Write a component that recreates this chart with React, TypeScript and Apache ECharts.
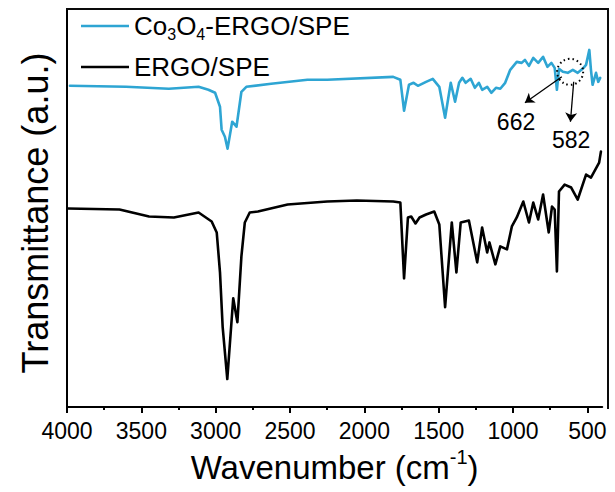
import React, { useEffect, useRef } from "react";
import * as echarts from "echarts";

// ---- data (wavenumber in cm-1, transmittance in arbitrary units) ----
const majorTicks = [4000, 3500, 3000, 2500, 2000, 1500, 1000, 500];
const minorTicks = [3750, 3250, 2750, 2250, 1750, 1250, 750];
const seriesNames = ["Co3O4-ERGO/SPE", "ERGO/SPE"];

const coWn = [3980, 3603, 3315, 3115, 3049, 3004, 2971, 2960, 2938, 2920, 2889, 2860, 2844, 2827, 2794, 2627, 2383, 2250, 1806, 1758, 1733, 1700, 1669, 1640, 1585, 1540, 1496, 1457, 1419, 1390, 1363, 1341, 1319, 1285, 1257, 1230, 1208, 1174, 1146, 1115, 1086, 1053, 1019, 975, 942, 920, 893, 864, 831, 798, 769, 742, 720, 705, 691, 665, 632, 598, 565, 532, 509, 487, 476, 465, 442, 427, 414];
const coT = [322, 321, 319, 321, 318, 315, 301, 278, 271, 259, 286, 281, 298, 316, 321, 324, 328, 328, 331, 328, 297, 323, 325, 322, 326, 329, 321, 290, 325, 306, 325, 330, 325, 329, 320, 325, 318, 321, 315, 320, 319, 325, 338, 346, 345, 348, 342, 350, 345, 351, 341, 345, 340, 318, 339, 336, 335, 338, 335, 339, 343, 358, 338, 323, 335, 326, 330];

const ergoWn = [3993, 3647, 3448, 3281, 3115, 3027, 2993, 2971, 2953, 2922, 2882, 2854, 2827, 2804, 2771, 2716, 2516, 2250, 2051, 1806, 1758, 1733, 1707, 1685, 1656, 1629, 1585, 1530, 1496, 1457, 1412, 1381, 1352, 1297, 1241, 1208, 1174, 1159, 1119, 1086, 1041, 1008, 975, 931, 893, 864, 831, 798, 760, 738, 720, 705, 691, 653, 609, 565, 509, 476, 421, 409];
const ergoT = [199, 198, 191, 190, 195, 186, 175, 135, 80, 28, 109, 85, 151, 185, 195, 196, 203, 206, 207, 206, 205, 129, 190, 191, 184, 190, 193, 196, 183, 100, 185, 135, 185, 187, 145, 180, 155, 165, 143, 161, 158, 181, 190, 206, 185, 205, 188, 213, 175, 201, 198, 136, 216, 223, 220, 208, 233, 230, 245, 256];

// axis extents
const xRange = [400, 4000];
const yRange = [0, 399];

// annotation anchors (data coordinates)
const circleAt = [616, 336];
const arrows = [
  [[672, 331], [920, 305]],
  [[592, 326], [614, 286]],
];
const peakLabels = [
  { text: "662", at: [980, 286] },
  { text: "582", at: [609, 268] },
];

const W = 615;
const H = 492;
const GRID = { left: 67, right: 7, top: 9, bottom: 84 };
const FONT = "'Liberation Sans', Arial, Helvetica, sans-serif";
const CYAN = "#2ea5d3";
const FRAME = "#0a0a0a";

export default function App() {
  const ref = useRef<HTMLDivElement>(null);
  useEffect(() => {
    const chart = echarts.init(ref.current!, null, { renderer: "svg" });
    const pair = (xs: number[], ys: number[]) => xs.map((x, i) => [x, ys[i]]);
    const axisLineStyle = { show: true, onZero: false, lineStyle: { color: "#000", width: 2 } };
    const rightX = W - GRID.right;
    const bottomY = H - GRID.bottom;

    const toPxFn = (p: number[]) => chart.convertToPixel({ xAxisIndex: 0, yAxisIndex: 0 }, p) as number[];

    chart.setOption({
      animation: false,
      backgroundColor: "#ffffff",
      textStyle: { fontFamily: FONT },
      grid: GRID,
      legend: {
        orient: "vertical",
        left: 76,
        top: 8,
        itemWidth: 48,
        itemHeight: 2.5,
        itemGap: 12,
        icon: "rect",
        selectedMode: false,
        data: seriesNames,
        formatter: (name: string) =>
          name === "Co3O4-ERGO/SPE" ? "{t|Co}{s|3}{t|O}{s|4}{t|-ERGO/SPE}" : "{t|ERGO/SPE}",
        textStyle: {
          color: "#000",
          fontFamily: FONT,
          fontSize: 26,
          rich: {
            t: { fontSize: 26, lineHeight: 32, color: "#000", fontFamily: FONT },
            s: { fontSize: 16, lineHeight: 16, verticalAlign: "bottom", color: "#000", fontFamily: FONT },
          },
        },
      },
      xAxis: [
        {
          type: "value",
          inverse: true,
          min: xRange[0],
          max: xRange[1],
          position: "bottom",
          name: "Wavenumber (cm{sup|-1})",
          nameLocation: "middle",
          nameGap: 40,
          nameTextStyle: {
            color: "#000",
            fontSize: 33,
            lineHeight: 40,
            fontFamily: FONT,
            rich: { sup: { fontSize: 20, lineHeight: 24, verticalAlign: "top", color: "#000", fontFamily: FONT } },
          },
          axisLine: axisLineStyle,
          axisTick: { show: true, customValues: majorTicks, length: 6, lineStyle: { color: "#000", width: 2 } },
          axisLabel: {
            customValues: majorTicks,
            fontSize: 23,
            color: "#000",
            margin: 12,
            fontFamily: FONT,
            formatter: (v: number) => String(v),
          },
          splitLine: { show: false },
        },
        {
          type: "value",
          inverse: true,
          min: xRange[0],
          max: xRange[1],
          position: "bottom",
          axisLine: { show: false, onZero: false },
          axisTick: { show: true, customValues: minorTicks, length: 3, lineStyle: { color: "#000", width: 2 } },
          axisLabel: { show: false },
          splitLine: { show: false },
        },
      ],
      yAxis: {
        type: "value",
        min: yRange[0],
        max: yRange[1],
        name: "Transmittance (a.u.)",
        nameLocation: "middle",
        nameRotate: 90,
        nameGap: 14,
        nameTextStyle: { color: "#000", fontSize: 36, fontFamily: FONT, padding: [0, 10, 0, 0] },
        axisLine: axisLineStyle,
        axisTick: { show: false },
        axisLabel: { show: false },
        splitLine: { show: false },
      },
      series: [
        {
          name: seriesNames[0],
          type: "line",
          data: pair(coWn, coT),
          symbol: "none",
          color: CYAN,
          lineStyle: { color: CYAN, width: 2.6, join: "round", cap: "round" },
          markLine: {
            silent: true,
            symbol: ["none", "arrow"],
            symbolSize: 9,
            label: { show: false },
            emphasis: { disabled: true },
            lineStyle: { color: "#000", width: 1.3, type: "solid" },
            data: arrows.map(([a, b]) => [{ coord: a }, { coord: b }]),
          },
        },
        {
          name: seriesNames[1],
          type: "line",
          data: pair(ergoWn, ergoT),
          symbol: "none",
          color: "#000",
          lineStyle: { color: "#000", width: 2.6, join: "round", cap: "round" },
        },
      ],
    });

    const c = toPxFn(circleAt);
    chart.setOption({
      graphic: [
        {
          id: "frameTop",
          type: "rect",
          shape: { x: GRID.left - 1, y: GRID.top - 1, width: rightX - GRID.left + 2, height: 2 },
          style: { fill: FRAME },
          z: 30,
        },
        {
          id: "frameRight",
          type: "rect",
          shape: { x: rightX - 1, y: GRID.top - 1, width: 2, height: bottomY - GRID.top + 2 },
          style: { fill: FRAME },
          z: 30,
        },
        {
          id: "circle",
          type: "circle",
          shape: { cx: c[0], cy: c[1], r: 13 },
          style: { fill: "none", stroke: "#000", lineWidth: 2, lineDash: [1.5, 3] },
          z: 10,
        },
        ...peakLabels.map((l, i) => {
          const p = toPxFn(l.at);
          return {
            id: "label" + i,
            type: "text",
            x: p[0],
            y: p[1],
            z: 10,
            style: {
              text: l.text,
              fill: "#000",
              fontSize: 23,
              fontFamily: FONT,
              align: "center",
              verticalAlign: "middle",
            },
          };
        }),
      ],
    });
    return () => chart.dispose();
  }, []);
  return <div ref={ref} style={{ position: "fixed", left: 0, top: 0, width: W, height: H }} />;
}
